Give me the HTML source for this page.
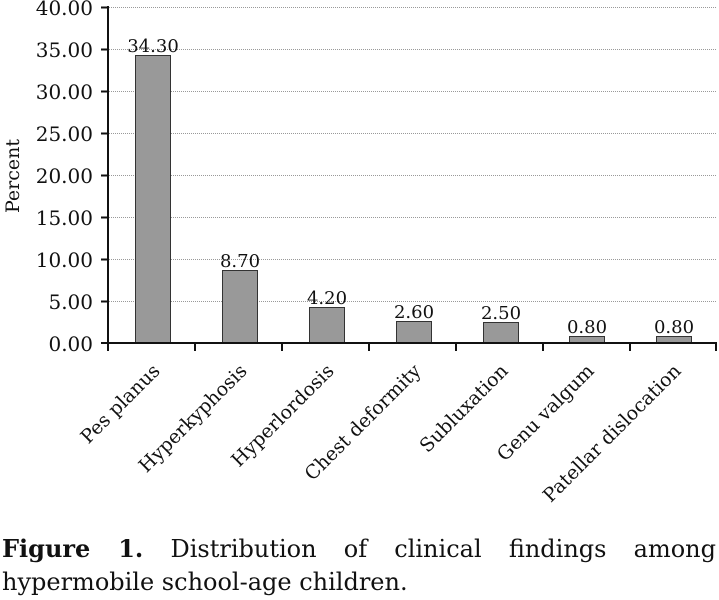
<!DOCTYPE html>
<html><head><meta charset="utf-8"><style>
body{margin:0;background:#fff;width:719px;height:600px;overflow:hidden}
.cap{position:absolute;left:2px;width:714px;font:24px/32px "DejaVu Serif","Liberation Serif",serif;color:#111;white-space:nowrap}
.l1{top:533px;text-align:justify;text-align-last:justify;white-space:normal}
.l2{top:566px}
</style></head><body>
<svg width="719" height="530" style="position:absolute;left:0;top:0" font-family="DejaVu Serif, Liberation Serif, serif" fill="#111">
<g stroke="#999" stroke-width="1" stroke-dasharray="1,1">
<line x1="109" x2="716" y1="7.5" y2="7.5"/><line x1="109" x2="716" y1="49.5" y2="49.5"/><line x1="109" x2="716" y1="91.5" y2="91.5"/><line x1="109" x2="716" y1="133.5" y2="133.5"/><line x1="109" x2="716" y1="175.5" y2="175.5"/><line x1="109" x2="716" y1="217.5" y2="217.5"/><line x1="109" x2="716" y1="259.5" y2="259.5"/><line x1="109" x2="716" y1="301.5" y2="301.5"/>
</g>
<g fill="#999" stroke="#333" stroke-width="1">
<rect x="135.5" y="55.5" width="35" height="287.5"/>
<rect x="222.5" y="270.5" width="35" height="72.5"/>
<rect x="309.5" y="307.5" width="35" height="35.5"/>
<rect x="396.5" y="321.5" width="35" height="21.5"/>
<rect x="483.5" y="322.5" width="35" height="20.5"/>
<rect x="569.5" y="336.5" width="35" height="6.5"/>
<rect x="656.5" y="336.5" width="35" height="6.5"/>
</g>
<g stroke="#111" stroke-width="2">
<line x1="108" y1="6" x2="108" y2="351"/><line x1="101" y1="343" x2="717" y2="343"/>
<line x1="101" y1="7.5" x2="108" y2="7.5"/><line x1="101" y1="49.5" x2="108" y2="49.5"/><line x1="101" y1="91.5" x2="108" y2="91.5"/><line x1="101" y1="133.5" x2="108" y2="133.5"/><line x1="101" y1="175.5" x2="108" y2="175.5"/><line x1="101" y1="217.5" x2="108" y2="217.5"/><line x1="101" y1="259.5" x2="108" y2="259.5"/><line x1="101" y1="301.5" x2="108" y2="301.5"/>
<line x1="195" y1="343" x2="195" y2="351"/><line x1="282" y1="343" x2="282" y2="351"/><line x1="369" y1="343" x2="369" y2="351"/><line x1="456" y1="343" x2="456" y2="351"/><line x1="543" y1="343" x2="543" y2="351"/><line x1="630" y1="343" x2="630" y2="351"/><line x1="716" y1="343" x2="716" y2="351"/>
</g>
<g font-size="20" text-anchor="end">
<text x="93" y="15">40.00</text><text x="93" y="57">35.00</text><text x="93" y="99">30.00</text><text x="93" y="141">25.00</text><text x="93" y="183">20.00</text><text x="93" y="225">15.00</text><text x="93" y="267">10.00</text><text x="93" y="309">5.00</text><text x="93" y="351">0.00</text>
</g>
<text font-size="19" transform="translate(19,176) rotate(-90)" text-anchor="middle">Percent</text>
<g font-size="18" text-anchor="middle">
<text x="153" y="52">34.30</text><text x="240" y="267">8.70</text><text x="327" y="304">4.20</text><text x="414" y="318">2.60</text><text x="501" y="319">2.50</text><text x="587" y="333">0.80</text><text x="674" y="333">0.80</text>
</g>
<g font-size="19" text-anchor="end">
<text transform="translate(161,372) rotate(-45)">Pes planus</text>
<text transform="translate(248,372) rotate(-45)">Hyperkyphosis</text>
<text transform="translate(335,372) rotate(-45)">Hyperlordosis</text>
<text transform="translate(422,372) rotate(-45)">Chest deformity</text>
<text transform="translate(509,372) rotate(-45)">Subluxation</text>
<text transform="translate(595,372) rotate(-45)">Genu valgum</text>
<text transform="translate(682,372) rotate(-45)">Patellar dislocation</text>
</g>
</svg>
<div class="cap l1"><b>Figure 1.</b> Distribution of clinical findings among</div>
<div class="cap l2">hypermobile school-age children.</div>
</body></html>
